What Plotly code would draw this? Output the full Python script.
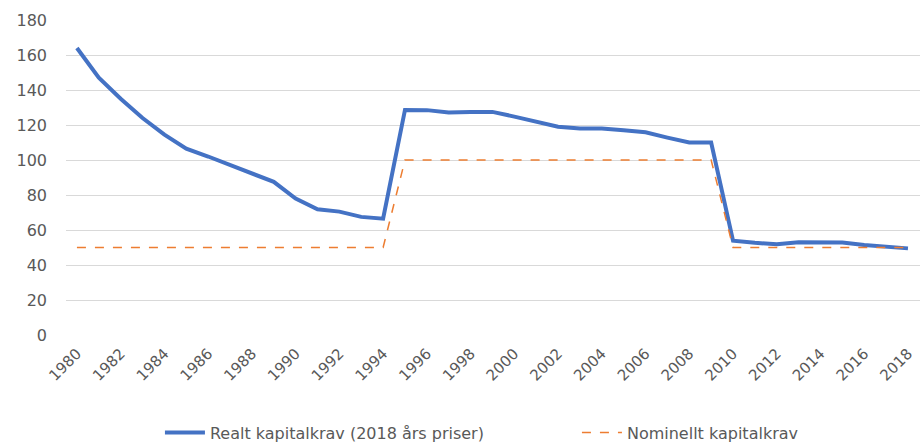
import plotly.graph_objects as go

years = list(range(1980, 2019))
realt = [164, 147, 135, 124, 114.5, 106.5, 102, 97, 92.4, 87.5, 78, 71.8, 70.5, 67.5, 66.5,
         128.6, 128.5, 127.2, 127.5, 127.5, 124.8, 122, 119, 118, 118, 117, 115.8, 112.8, 110, 110,
         53.9, 52.7, 51.8, 53, 53.1, 52.8, 51.4, 50.5, 49.5]
nominellt = [50]*15 + [100]*15 + [50]*9
tick_years = list(range(1980, 2019, 2))
y_ticks = list(range(0, 181, 20))

font_fam = "DejaVu Sans"
grey = "#595959"

fig = go.Figure()
fig.add_trace(go.Scatter(x=years, y=realt, mode="lines", name="Realt kapitalkrav (2018 års priser)",
                         line=dict(color="#4472C4", width=4)))
fig.add_trace(go.Scatter(x=years, y=nominellt, mode="lines", name="Nominellt kapitalkrav",
                         line=dict(color="#ED7D31", width=1.5, dash="dash")))

fig.update_layout(
    width=920, height=446,
    margin=dict(l=66, r=0, t=20, b=111, autoexpand=False),
    paper_bgcolor="white", plot_bgcolor="white",
    font=dict(family=font_fam, size=16, color=grey),
    showlegend=True,
    legend=dict(orientation="h", x=0.11, xanchor="left", y=-0.31, yanchor="middle",
                font=dict(size=16, color=grey), entrywidth=362, itemwidth=40),
    xaxis=dict(range=[1979.5, 2018.55], tickmode="array", tickvals=tick_years,
               ticktext=[str(t) for t in tick_years], tickangle=-45, showgrid=False,
               zeroline=False, showline=False, ticks="", automargin=False,
               ticklabeloverflow="allow", ticklabelstandoff=6,
               tickfont=dict(size=15, color=grey)),
    yaxis=dict(range=[0, 180], tickmode="array", tickvals=y_ticks, showgrid=True,
               gridcolor="#d9d9d9", gridwidth=1, zeroline=False, showline=False, ticks="",
               automargin=False, tickfont=dict(size=16, color=grey), ticklabelstandoff=18),
)

fig.write_html("out.html", config={"displayModeBar": False},
               post_script="document.body.style.margin='0';")
